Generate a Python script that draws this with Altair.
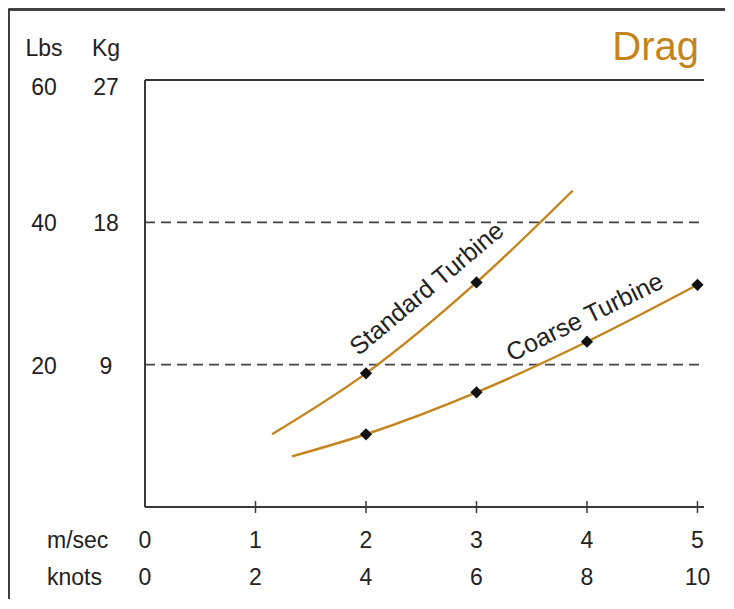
import altair as alt
import pandas as pd

# ---- data ----
std_speed = [1.15, 2.0, 3.0, 3.87]
std_drag = [4.6, 8.45, 14.2, 20.0]
std_marked = [False, True, True, False]

coarse_speed = [1.33, 2.0, 3.0, 4.0, 5.0]
coarse_drag = [3.2, 4.6, 7.25, 10.45, 14.05]
coarse_marked = [False, True, True, True, True]

kg_ticks = [27, 18, 9]
lbs_labels = ["60", "40", "20"]
ms_ticks = [0, 1, 2, 3, 4, 5]
knots_labels = ["0", "2", "4", "6", "8", "10"]

curve_names = ["Standard Turbine", "Coarse Turbine"]
curve_label_x = [2.55, 3.98]
curve_label_y = [13.8, 12.0]
curve_label_angle = [320, 334]

ORANGE = "#C4841C"
DARK = "#3a3a3a"
TEXT = "#222222"
FONT = "Liberation Sans Narrow, Arial Narrow, Liberation Sans, Arial, sans-serif"
FONT2 = "Liberation Sans, Arial, Helvetica, sans-serif"

W, H = 558, 427
PL, PT, PR, PB = 137, 72, 22, 92

rows = []
for s, d, m in zip(std_speed, std_drag, std_marked):
    rows.append({"series": "Standard Turbine", "speed": s, "drag": d, "marked": m})
for s, d, m in zip(coarse_speed, coarse_drag, coarse_marked):
    rows.append({"series": "Coarse Turbine", "speed": s, "drag": d, "marked": m})
df = pd.DataFrame(rows)

ydf = pd.DataFrame({"kg": kg_ticks, "lbs": lbs_labels})
xdf = pd.DataFrame({"ms": ms_ticks, "knots": knots_labels})
ldf = pd.DataFrame({"name": curve_names, "x": curve_label_x, "y": curve_label_y,
                    "angle": curve_label_angle})

xs = alt.Scale(domain=[0, 5.05], nice=False, zero=False)
ys = alt.Scale(domain=[0, 27], nice=False, zero=False)
X = lambda f: alt.X(f, type="quantitative", scale=xs, axis=None)
Y = lambda f: alt.Y(f, type="quantitative", scale=ys, axis=None)

base = alt.Chart(df)
LS = 23

# outer frame
frame_top = alt.Chart(df).mark_rule(color=DARK, strokeWidth=1.5).encode(
    x=alt.value(-PL + 0.5), x2=alt.value(W + PR), y=alt.value(-PT + 1.5))
frame_left = alt.Chart(df).mark_rule(color=DARK, strokeWidth=1.5).encode(
    x=alt.value(-PL + 0.5), y=alt.value(-PT + 1), y2=alt.value(H + PB))

# plot frame lines
top_line = alt.Chart(df).mark_rule(color=DARK, strokeWidth=1.5).encode(
    x=alt.value(0), x2=alt.value(W + 1), y=alt.value(0))
left_line = alt.Chart(df).mark_rule(color=DARK, strokeWidth=1.5).encode(
    x=alt.value(0), y=alt.value(0), y2=alt.value(H))
bottom_line = alt.Chart(df).mark_rule(color=DARK, strokeWidth=1.5).encode(
    x=alt.value(0), x2=alt.value(W + 1), y=alt.value(H))

grid = alt.Chart(ydf).transform_filter("datum.kg < 27").mark_rule(
    color="#444444", strokeWidth=1.7, strokeDash=[10, 6]).encode(
    y=Y("kg"), x=alt.value(0), x2=alt.value(W + 1))

ticks = alt.Chart(xdf).transform_filter("datum.ms > 0").mark_rule(
    color=DARK, strokeWidth=1.5).encode(
    x=X("ms"), y=alt.value(H - 6), y2=alt.value(H + 6))

lines = base.mark_line(color=ORANGE, strokeWidth=2.4, interpolate="monotone").encode(
    x=X("speed"), y=Y("drag"), detail="series:N")

points = base.transform_filter("datum.marked").mark_point(
    shape="diamond", filled=True, color="#111111", opacity=1, size=150).encode(
    x=X("speed"), y=Y("drag"))

curve_labels = alt.Chart(ldf).mark_text(
    font=FONT2, fontSize=25, color=TEXT, baseline="middle", align="center").encode(
    x=X("x"), y=Y("y"), text="name:N", angle=alt.Angle("angle:Q", scale=None))

def ylabels(field, xpix, cond, dy):
    return alt.Chart(ydf).transform_filter(cond).mark_text(
        font=FONT, fontSize=LS, color=TEXT, baseline="middle", align="center", dy=dy
    ).encode(y=Y("kg"), x=alt.value(xpix), text=f"{field}:N")

kg_lab = ylabels("kg", -39, "datum.kg < 27", 2)
lbs_lab = ylabels("lbs", -101, "datum.kg < 27", 2)
kg_top = ylabels("kg", -39, "datum.kg == 27", 8)
lbs_top = ylabels("lbs", -101, "datum.kg == 27", 8)

hdr_lbs = alt.Chart(ydf).transform_filter("datum.kg == 27").mark_text(
    font=FONT, fontSize=LS, color=TEXT, baseline="middle", align="center").encode(
    x=alt.value(-101), y=alt.value(-31), text=alt.value("Lbs"))
hdr_kg = alt.Chart(ydf).transform_filter("datum.kg == 27").mark_text(
    font=FONT, fontSize=LS, color=TEXT, baseline="middle", align="center").encode(
    x=alt.value(-39), y=alt.value(-31), text=alt.value("Kg"))

ms_lab = alt.Chart(xdf).mark_text(font=FONT, fontSize=LS, color=TEXT,
                                  baseline="middle", align="center").encode(
    x=X("ms"), y=alt.value(461), text="ms:N")
kn_lab = alt.Chart(xdf).mark_text(font=FONT, fontSize=LS, color=TEXT,
                                  baseline="middle", align="center").encode(
    x=X("ms"), y=alt.value(498), text="knots:N")
hdr_ms = alt.Chart(xdf).transform_filter("datum.ms == 0").mark_text(
    font=FONT, fontSize=LS, color=TEXT, baseline="middle", align="left").encode(
    x=alt.value(-98), y=alt.value(461), text=alt.value("m/sec"))
hdr_kn = alt.Chart(xdf).transform_filter("datum.ms == 0").mark_text(
    font=FONT, fontSize=LS, color=TEXT, baseline="middle", align="left").encode(
    x=alt.value(-98), y=alt.value(498), text=alt.value("knots"))

title = alt.Chart(xdf).transform_filter("datum.ms == 0").mark_text(
    font=FONT2, fontSize=40, color=ORANGE, baseline="alphabetic", align="right").encode(
    x=alt.value(W - 4), y=alt.value(-20), text=alt.value("Drag"))

chart = alt.layer(
    frame_top, frame_left, grid, top_line, left_line, bottom_line, ticks,
    lines, points, curve_labels, kg_lab, lbs_lab, kg_top, lbs_top, hdr_lbs, hdr_kg,
    ms_lab, kn_lab, hdr_ms, hdr_kn, title
).properties(
    width=W, height=H,
    autosize=alt.AutoSizeParams(type="none"),
    padding={"left": PL, "top": PT, "right": PR, "bottom": PB},
).configure_view(stroke=None)

chart.save("out.html", embed_options={"renderer": "svg", "actions": False})
